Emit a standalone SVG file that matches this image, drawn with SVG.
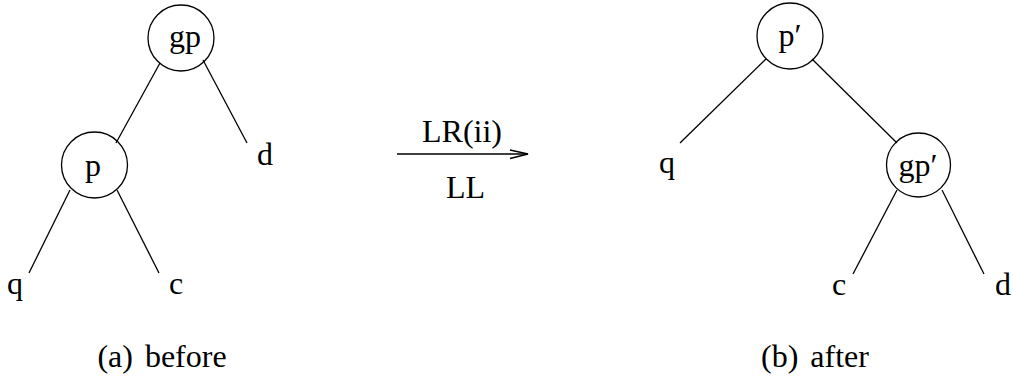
<svg xmlns="http://www.w3.org/2000/svg" width="1013" height="387" viewBox="0 0 1013 387">
<style>
circle{fill:none;stroke:#000;stroke-width:1.3}
line,polyline{stroke:#000;stroke-width:1.3;fill:none}
</style>
<rect width="1013" height="387" fill="#fff"/>
<g id="connectors">
<line x1="160" y1="63" x2="116" y2="143"/>
<line x1="203" y1="60" x2="247" y2="143"/>
<line x1="70" y1="190" x2="29" y2="273"/>
<line x1="117" y1="190" x2="159" y2="273"/>
<line x1="766" y1="59" x2="680" y2="143"/>
<line x1="812" y1="59" x2="897" y2="143"/>
<line x1="897" y1="190" x2="853" y2="274"/>
<line x1="942" y1="190" x2="984" y2="274"/>
<g id="arrow">
<line x1="397" y1="154" x2="528" y2="154"/>
<polyline points="510,150 528,154 510,158.5"/>
</g>
</g>
<g id="node-gp"><circle cx="181" cy="38" r="33"/><text x="185" y="47" font-family="Liberation Serif" font-size="32" text-anchor="middle">gp</text></g>
<g id="node-p"><circle cx="94.5" cy="165" r="33"/><text x="93" y="176" font-family="Liberation Serif" font-size="32" text-anchor="middle">p</text></g>
<g id="leaf-q-a"><text x="15" y="294" font-family="Liberation Serif" font-size="32" text-anchor="middle">q</text></g>
<g id="leaf-c-a"><text x="176" y="294" font-family="Liberation Serif" font-size="32" text-anchor="middle">c</text></g>
<g id="leaf-d-a"><text x="265" y="165" font-family="Liberation Serif" font-size="32" text-anchor="middle">d</text></g>
<g id="node-p2"><circle cx="790" cy="36" r="33"/><text x="790" y="46" font-family="Liberation Serif" font-size="32" text-anchor="middle">p′</text></g>
<g id="node-gp2"><circle cx="918.5" cy="165" r="32"/><text x="918" y="176" font-family="Liberation Serif" font-size="32" text-anchor="middle">gp′</text></g>
<g id="leaf-q-b"><text x="667" y="173" font-family="Liberation Serif" font-size="32" text-anchor="middle">q</text></g>
<g id="leaf-c-b"><text x="839" y="295" font-family="Liberation Serif" font-size="32" text-anchor="middle">c</text></g>
<g id="leaf-d-b"><text x="1003" y="295" font-family="Liberation Serif" font-size="32" text-anchor="middle">d</text></g>
<g id="labels">
<text x="462" y="142" font-family="Liberation Serif" font-size="32" text-anchor="middle">LR(ii)</text>
<text x="465.5" y="198" font-family="Liberation Serif" font-size="32" text-anchor="middle">LL</text>
<text x="162" y="367" font-family="Liberation Serif" font-size="32" text-anchor="middle" word-spacing="4">(a) before</text>
<text x="815" y="367" font-family="Liberation Serif" font-size="32" text-anchor="middle" word-spacing="4">(b) after</text>
</g>
</svg>
